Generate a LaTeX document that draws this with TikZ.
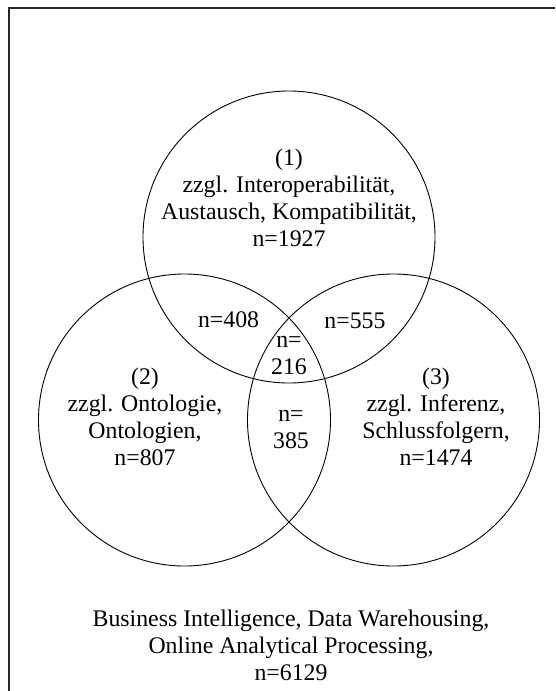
\documentclass[tikz,border=0pt]{standalone}
\usepackage{fontspec}
\setmainfont{Liberation Serif}
\begin{document}
\begin{tikzpicture}[x=1pt,y=-1pt,
  setcircle/.style={circle,draw=black,line width=0.9pt,minimum size=292pt,inner sep=0pt},
  lbl/.style={align=center,inner sep=0pt,font=\fontsize{23.8}{27}\selectfont,
    execute at begin node=\strut,execute at end node=\strut},
  frame/.style={line width=1.3pt,draw=black!85}]
\useasboundingbox (0,0) rectangle (555,691);
\draw[frame] (9,691) -- (9,8) -- (555,8);
\node[setcircle] (c1) at (289,237) {};
\node[setcircle] (c2) at (184.5,420) {};
\node[setcircle] (c3) at (393.5,420) {};
\node[lbl] (t1) at (289,202.1) {(1)\\zzgl. Interoperabilität,\\Austausch, Kompatibilität,\\n=1927};
\node[lbl] (t2) at (145,421) {(2)\\zzgl. Ontologie,\\Ontologien,\\n=807};
\node[lbl] (t3) at (436,421) {(3)\\zzgl. Inferenz,\\Schlussfolgern,\\n=1474};
\node[lbl] (t12) at (228.6,322.3) {n=408};
\node[lbl] (t13) at (355,322.6) {n=555};
\node[lbl] (t123) at (289,359.1) {n=\\216};
\node[lbl] (t23) at (291,433.6) {n=\\385};
\node[lbl] (tall) at (291,649) {Business Intelligence, Data Warehousing,\\Online Analytical Processing,\\n=6129};
\end{tikzpicture}
\end{document}
